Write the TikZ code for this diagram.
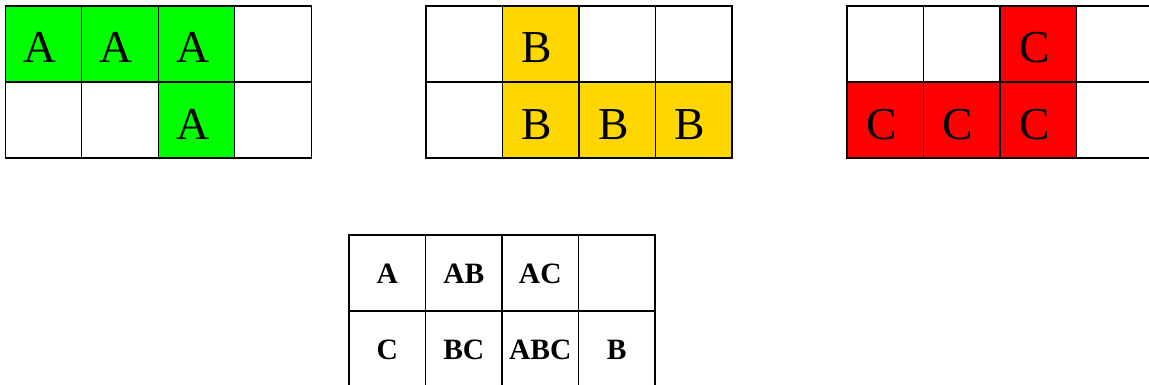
\documentclass[tikz,border=0pt]{standalone}
\usepackage{fontspec}
\setmainfont{Liberation Serif}
\usetikzlibrary{positioning}
\definecolor{setA}{RGB}{0,255,0}
\definecolor{setB}{RGB}{255,215,0}
\definecolor{setC}{RGB}{255,0,0}

\begin{document}
\begin{tikzpicture}[
    x=0.02cm, y=-0.02cm,
    cell/.style={draw=black,line width=0.6pt},
    letter/.style={anchor=base,inner sep=0pt,font=\fontsize{26}{26}\selectfont},
    tally/.style={anchor=base,inner sep=0pt,font=\fontsize{16.8}{17}\selectfont\bfseries}
]
    \useasboundingbox (0,0) rectangle (1149,385);
    \clip (0,0) rectangle (1149,385);

    % set A
    \foreach \i/\j/\f/\t in {0/0/setA/A,1/0/setA/A,2/0/setA/A,3/0/white/{},
                             0/1/white/{},1/1/white/{},2/1/setA/A,3/1/white/{}}
        \draw[cell,fill=\f] ({5.3+76.5*\i},{6+76*\j}) rectangle ++(76.5,76)
            node[letter] (a-\i-\j) at ({5.3+76.5*\i+34.25},{6+76*\j+57}) {\t};

    % set B
    \foreach \i/\j/\f/\t in {0/0/white/{},1/0/setB/B,2/0/white/{},3/0/white/{},
                             0/1/white/{},1/1/setB/B,2/1/setB/B,3/1/setB/B}
        \draw[cell,fill=\f] ({426+76.5*\i},{6+76*\j}) rectangle ++(76.5,76)
            node[letter] (b-\i-\j) at ({426+76.5*\i+34.25},{6+76*\j+57}) {\t};

    % set C
    \foreach \i/\j/\f/\t in {0/0/white/{},1/0/white/{},2/0/setC/C,3/0/white/{},
                             0/1/setC/C,1/1/setC/C,2/1/setC/C,3/1/white/{}}
        \draw[cell,fill=\f] ({847+76.5*\i},{6+76*\j}) rectangle ++(76.5,76)
            node[letter] (c-\i-\j) at ({847+76.5*\i+34.25},{6+76*\j+57}) {\t};

    % overlap table
    \foreach \i/\j/\t in {0/0/A,1/0/AB,2/0/AC,3/0/{},
                          0/1/C,1/1/BC,2/1/ABC,3/1/B}
        \draw[cell] ({349+76.5*\i},{235+76*\j}) rectangle ++(76.5,76)
            node[tally] (u-\i-\j) at ({349+76.5*\i+38.25},{235+76*\j+48}) {\t};
\end{tikzpicture}
\end{document}
